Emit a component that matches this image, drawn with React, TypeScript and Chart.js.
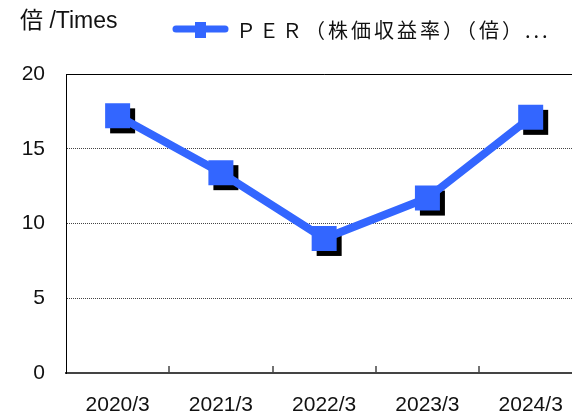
import React, { useEffect, useRef } from "react";
import { Chart, registerables } from "chart.js";

Chart.register(...registerables);

const categories = ["2020/3", "2021/3", "2022/3", "2023/3", "2024/3"];
const perValues = [17.2, 13.4, 9.0, 11.7, 17.1];
const yMin = 0;
const yMax = 20;
const yStep = 5;
const seriesLabel = "ＰＥＲ（株価収益率）（倍）...";
const axisTitle = "倍 /Times";

const BLUE = "#3366ff";
const FONT = "'Liberation Sans', Arial, 'Noto Sans CJK JP', sans-serif";
const CJK_FONT = "'Noto Sans CJK JP', 'Liberation Sans', sans-serif";
const MARK = 25;

const decorPlugin = {
  id: "decor",
  beforeDatasetsDraw(chart: any) {
    const { ctx, chartArea, scales } = chart;
    ctx.save();
    const yTop = Math.round(scales.y.getPixelForValue(yMax)) + 0.5;
    ctx.strokeStyle = "#000";
    ctx.lineWidth = 1;
    ctx.beginPath();
    ctx.moveTo(chartArea.left, yTop);
    ctx.lineTo(chartArea.right, yTop);
    ctx.stroke();
    const xs = scales.x;
    ctx.strokeStyle = "#444";
    ctx.lineWidth = 1.5;
    for (let i = 1; i < categories.length; i++) {
      const px = Math.round((xs.getPixelForValue(i - 1) + xs.getPixelForValue(i)) / 2);
      ctx.beginPath();
      ctx.moveTo(px, chartArea.bottom);
      ctx.lineTo(px, chartArea.bottom - 7);
      ctx.stroke();
    }
    const meta = chart.getDatasetMeta(0);
    ctx.fillStyle = "#000";
    meta.data.forEach((pt: any) => {
      ctx.fillRect(pt.x - MARK / 2 + 5, pt.y - MARK / 2 + 5, MARK, MARK);
    });
    ctx.restore();
  },
  afterDraw(chart: any) {
    const { ctx } = chart;
    ctx.save();
    ctx.fillStyle = "#111";
    ctx.textBaseline = "middle";
    ctx.textAlign = "left";
    ctx.font = `23px ${FONT}`;
    ctx.fillText(axisTitle, 20, 22);
    ctx.strokeStyle = BLUE;
    ctx.lineWidth = 7;
    ctx.lineCap = "round";
    ctx.beginPath();
    ctx.moveTo(176, 29);
    ctx.lineTo(225, 29);
    ctx.stroke();
    ctx.fillStyle = BLUE;
    ctx.fillRect(195, 22, 11, 16);
    ctx.fillStyle = "#111";
    ctx.font = `20px ${CJK_FONT}`;
    (ctx as any).letterSpacing = "3px";
    ctx.fillText(seriesLabel, 236, 30);
    ctx.restore();
  },
};

export default function App() {
  const ref = useRef<HTMLCanvasElement | null>(null);
  useEffect(() => {
    if (!ref.current) return;
    const chart = new Chart(ref.current, {
      type: "line",
      data: {
        labels: categories,
        datasets: [
          {
            label: seriesLabel,
            data: perValues,
            borderColor: BLUE,
            backgroundColor: BLUE,
            borderWidth: 8,
            tension: 0,
            pointStyle: "rect",
            pointRadius: MARK / 2 / Math.SQRT1_2,
            pointHoverRadius: MARK / 2 / Math.SQRT1_2,
            pointBackgroundColor: BLUE,
            pointBorderWidth: 0,
          },
        ],
      },
      options: {
        animation: false,
        responsive: true,
        maintainAspectRatio: false,
        layout: { padding: { top: 74, left: 0, right: 9, bottom: 0 } },
        plugins: {
          legend: { display: false },
          title: { display: false },
          tooltip: { enabled: false },
        },
        scales: {
          x: {
            offset: true,
            grid: { display: false, drawTicks: false },
            border: { display: true, color: "#444", width: 2 },
            ticks: {
              color: "#111",
              padding: 20,
              font: { family: FONT, size: 21 },
              maxRotation: 0,
            },
            afterFit: (s: any) => {
              s.height = 43;
              s.paddingLeft = 0;
              s.paddingRight = 0;
            },
          },
          y: {
            min: yMin,
            max: yMax,
            ticks: {
              stepSize: yStep,
              color: "#111",
              padding: 21,
              font: { family: FONT, size: 21 },
            },
            grid: {
              drawTicks: false,
              color: (c: any) =>
                c.tick && (c.tick.value === yMin || c.tick.value === yMax)
                  ? "rgba(0,0,0,0)"
                  : "#444",
              lineWidth: 1,
            },
            border: { display: true, color: "#000", width: 1, dash: [1, 1] },
            afterFit: (s: any) => {
              s.width = 66;
            },
          },
        },
      },
      plugins: [decorPlugin],
    });
    return () => chart.destroy();
  }, []);

  return (
    <div
      style={{
        position: "absolute",
        left: 0,
        top: 0,
        width: 572,
        height: 416,
        overflow: "hidden",
        background: "#fff",
      }}
    >
      <div style={{ position: "relative", width: 600, height: 416 }}>
        <canvas ref={ref} />
      </div>
    </div>
  );
}
